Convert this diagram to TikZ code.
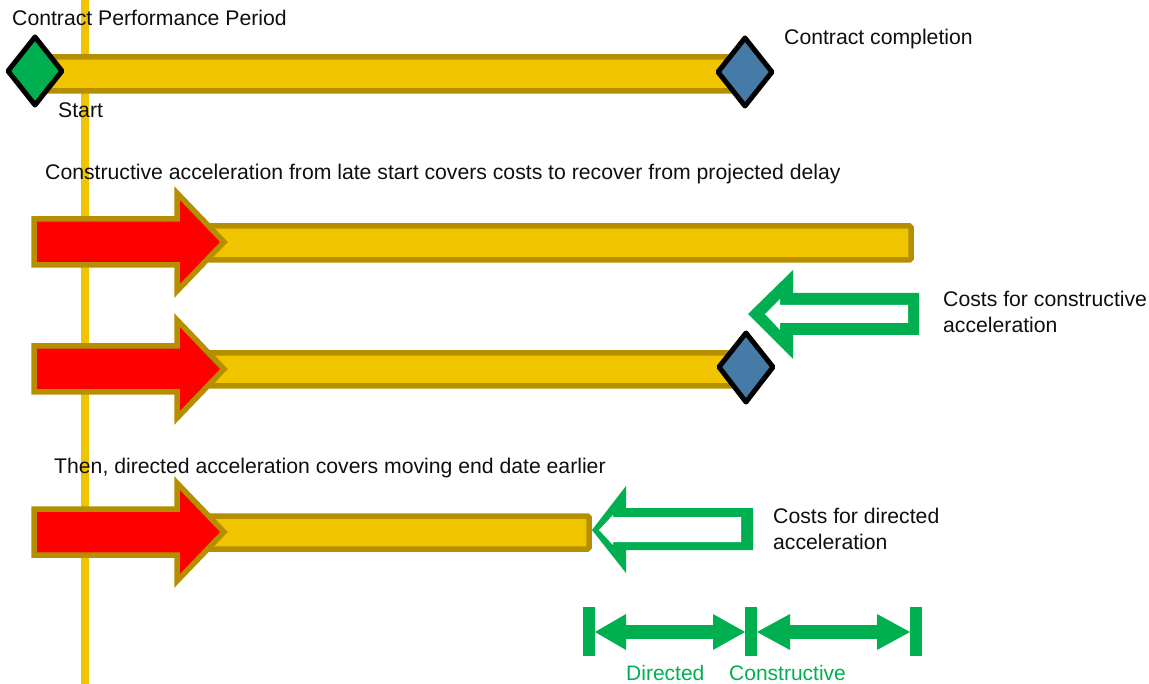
\documentclass[tikz,border=0pt]{standalone}
\usepackage{fontspec}
\setmainfont{Liberation Sans}
\definecolor{barfill}{RGB}{241,196,0}
\definecolor{barline}{RGB}{181,143,0}
\definecolor{vline}{RGB}{241,196,0}
\definecolor{okgreen}{RGB}{0,176,80}
\definecolor{steel}{RGB}{69,123,166}
\definecolor{txt}{RGB}{15,15,15}
\tikzset{
  lbl/.style={anchor=base west, inner sep=0pt, text=txt, font=\fontsize{21.2}{26}\selectfont},
  glbl/.style={anchor=base west, inner sep=0pt, text=okgreen, font=\fontsize{21}{26}\selectfont},
  bar/.style={fill=barfill, draw=barline, line width=5.5pt, rounded corners=1.5pt},
  redarrow/.style={fill=red, draw=barline, line width=5.5pt, miter limit=10},
  gem/.style={draw=black, line width=5pt, line join=round},
  gfill/.style={fill=okgreen},
  wfill/.style={fill=white},
}
\begin{document}
\begin{tikzpicture}[x=1pt, y=-1pt]
\useasboundingbox (0,0) rectangle (1149,684);
% vertical line
\draw[vline, line width=7.5pt] (85,0) -- (85,684);
% texts
\node[lbl] (t1) at (12,26) {Contract Performance Period};
\node[lbl] (t2) at (58,118) {Start};
\node[lbl] (t3) at (784,45) {Contract completion};
\node[lbl] (t4) at (45,180) {Constructive acceleration from late start covers costs to recover from projected delay};
\node[lbl] (t5) at (943,307) {Costs for constructive};
\node[lbl] (t5b) at (943,333) {acceleration};
\node[lbl] (t6) at (54,473) {Then, directed acceleration covers moving end date earlier};
\node[lbl] (t7) at (773,523) {Costs for directed};
\node[lbl] (t7b) at (773,549) {acceleration};
\node[glbl] (t8) at (626,680) {Directed};
\node[glbl] (t9) at (729,680) {Constructive};
% bars
\draw[bar] (40,57) rectangle (745,91);
\draw[bar] (195,226) rectangle (911,260);
\draw[bar] (195,353) rectangle (745,386);
\draw[bar] (195,516) rectangle (589,549);
% red arrows
\foreach \c in {242,369,532}{
  \draw[redarrow] (34,\c-23) -- (177,\c-23) -- (177,\c-49) -- (224,\c) -- (177,\c+49) -- (177,\c+23) -- (34,\c+23) -- cycle;
}
% diamonds
\draw[gem, fill=okgreen] (35,37) -- (62,71) -- (35,105) -- (8,71) -- cycle;
\draw[gem, fill=steel] (745,38) -- (772,72) -- (745,106) -- (718,72) -- cycle;
\draw[gem, fill=steel] (746,333) -- (773,367) -- (746,402) -- (719,367) -- cycle;
% green hollow arrow (constructive)
\fill[gfill] (748,314) -- (793,270) -- (793,293) -- (919,293) -- (919,335) -- (793,335) -- (793,359) -- cycle;
\fill[wfill] (765,314) -- (780,299) -- (780,305) -- (908,305) -- (908,323) -- (780,323) -- (780,330) -- cycle;
% green hollow arrow (directed)
\fill[gfill] (592,530) -- (626,486) -- (626,508) -- (753,508) -- (753,550) -- (626,550) -- (626,573) -- cycle;
\fill[wfill] (599,530) -- (613,515) -- (613,517) -- (741,517) -- (741,542) -- (613,542) -- (613,545) -- cycle;
% dimension markers
\fill[gfill] (583,607) rectangle (595,656);
\fill[gfill] (745,607) rectangle (757,656);
\fill[gfill] (910,607) rectangle (922,656);
\fill[gfill] (595,632) -- (626,614) -- (626,650) -- cycle;
\fill[gfill] (626,625) rectangle (713,639);
\fill[gfill] (745,632) -- (713,614) -- (713,650) -- cycle;
\fill[gfill] (757,632) -- (790,614) -- (790,650) -- cycle;
\fill[gfill] (790,625) rectangle (877,639);
\fill[gfill] (910,632) -- (877,614) -- (877,650) -- cycle;
\end{tikzpicture}
\end{document}
